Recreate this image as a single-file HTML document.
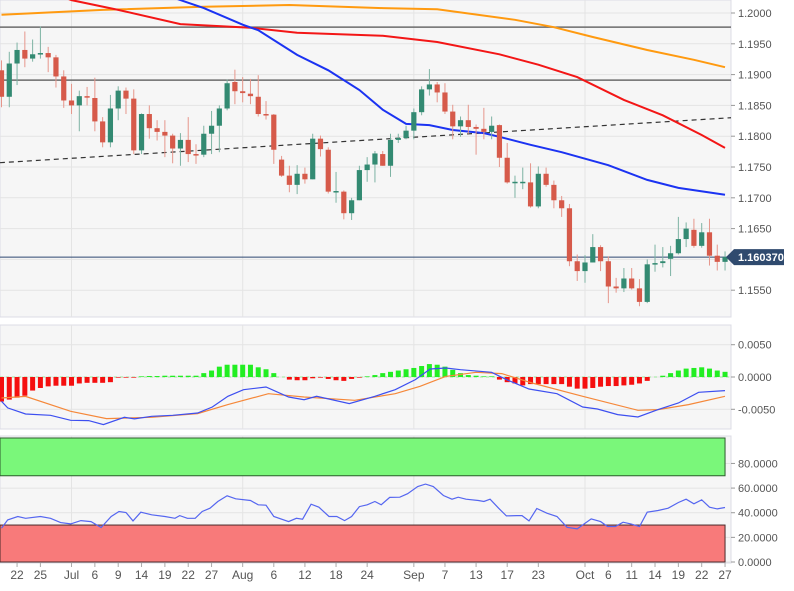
<!DOCTYPE html>
<html><head><meta charset="utf-8"><style>
html,body{margin:0;padding:0;background:#fff;}
svg{display:block;font-family:"Liberation Sans",sans-serif;}
</style></head><body>
<svg id="chart" width="794" height="591" viewBox="0 0 794 591" xmlns="http://www.w3.org/2000/svg"></svg>
<script>
// ---------- DATA ----------
const opens  = [1.1907,1.1864,1.1918,1.1940,1.1926,1.1934,1.1935,1.1928,1.1897,1.1858,1.1850,1.1865,1.1862,1.1824,1.1790,1.1845,1.1874,1.1861,1.1777,1.1836,1.1813,1.1807,1.1801,1.1780,1.1794,1.1771,1.1770,1.1804,1.1817,1.1845,1.1888,1.1873,1.1869,1.1864,1.1836,1.1835,1.1762,1.1736,1.1721,1.1739,1.1730,1.1796,1.1778,1.1710,1.1710,1.1675,1.1696,1.1745,1.1754,1.1771,1.1752,1.1794,1.1797,1.1809,1.1839,1.1876,1.1884,1.1871,1.1840,1.1816,1.1826,1.1815,1.1812,1.1807,1.1818,1.1765,1.1725,1.1725,1.1725,1.1686,1.1739,1.1721,1.1696,1.1683,1.1597,1.1581,1.1595,1.1620,1.1597,1.1556,1.1553,1.1569,1.1553,1.1531,1.1592,1.1594,1.1601,1.1610,1.1633,1.1648,1.1622,1.1644,1.1606,1.1596];
const closes = [1.1864,1.1918,1.1940,1.1926,1.1933,1.1935,1.1928,1.1897,1.1858,1.1850,1.1865,1.1863,1.1824,1.1790,1.1845,1.1874,1.1861,1.1777,1.1836,1.1813,1.1807,1.1801,1.1780,1.1794,1.1771,1.1770,1.1804,1.1817,1.1845,1.1886,1.1873,1.1870,1.1865,1.1836,1.1834,1.1778,1.1736,1.1721,1.1739,1.1730,1.1796,1.1779,1.1710,1.1711,1.1675,1.1696,1.1745,1.1754,1.1772,1.1752,1.1794,1.1797,1.1809,1.1839,1.1876,1.1884,1.1871,1.1840,1.1816,1.1826,1.1815,1.1812,1.1807,1.1817,1.1765,1.1725,1.1726,1.1726,1.1686,1.1739,1.1721,1.1696,1.1683,1.1597,1.1581,1.1595,1.1620,1.1597,1.1556,1.1553,1.1569,1.1553,1.1531,1.1592,1.1594,1.1597,1.1610,1.1633,1.1650,1.1622,1.1644,1.1606,1.1596,1.1604];
const highs  = [1.1923,1.1937,1.1952,1.1970,1.1957,1.1978,1.1945,1.1932,1.1907,1.1885,1.1874,1.1880,1.1895,1.1831,1.1867,1.1881,1.1879,1.1876,1.1837,1.1850,1.1826,1.1826,1.1804,1.1805,1.1831,1.1787,1.1817,1.1841,1.1850,1.1892,1.1908,1.1896,1.1893,1.1899,1.1857,1.1836,1.1768,1.1752,1.1753,1.1749,1.1804,1.1801,1.1782,1.1742,1.1712,1.1700,1.1752,1.1766,1.1776,1.1776,1.1804,1.1804,1.1817,1.1845,1.1881,1.1909,1.1888,1.1886,1.1851,1.1832,1.1851,1.1819,1.1846,1.1832,1.1819,1.1789,1.1736,1.1749,1.1756,1.1751,1.1749,1.1728,1.1703,1.1690,1.1608,1.1607,1.1641,1.1623,1.1605,1.1570,1.1586,1.1586,1.1568,1.1600,1.1624,1.1620,1.1622,1.1669,1.1660,1.1666,1.1659,1.1666,1.1624,1.1613];
const lows   = [1.1847,1.1847,1.1883,1.1912,1.1921,1.1926,1.1904,1.1879,1.1846,1.1836,1.1808,1.1850,1.1808,1.1782,1.1782,1.1826,1.1836,1.1771,1.1771,1.1796,1.1793,1.1766,1.1756,1.1752,1.1758,1.1755,1.1766,1.1771,1.1774,1.1842,1.1852,1.1855,1.1852,1.1832,1.1827,1.1755,1.1734,1.1709,1.1706,1.1723,1.1730,1.1767,1.1707,1.1692,1.1665,1.1664,1.1696,1.1726,1.1725,1.1752,1.1734,1.1789,1.1795,1.1795,1.1834,1.1866,1.1855,1.1836,1.1795,1.1799,1.1804,1.1770,1.1795,1.1795,1.1750,1.1723,1.1700,1.1714,1.1684,1.1683,1.1718,1.1683,1.1669,1.1589,1.1565,1.1562,1.1595,1.1581,1.1529,1.1546,1.1547,1.1551,1.1524,1.1529,1.1580,1.1587,1.1573,1.1608,1.1620,1.1619,1.1619,1.1590,1.1582,1.1582];
const ma200Idx = [0,13,26,37,49,56,66,71,76,83,89,93];
const ma200Val = [1.1997,1.2005,1.2010,1.2013,1.2008,1.2006,1.1989,1.1977,1.1961,1.1940,1.1924,1.1912];
const ma100Idx = [7,9,15,23,32,38,49,56,64,69,74,80,85,90,93];
const ma100Val = [1.2030,1.2021,1.2005,1.1982,1.1976,1.1968,1.1963,1.1953,1.1933,1.1916,1.1896,1.1859,1.1834,1.1802,1.1781];
const ma50Idx = [21,23,26,31,33,38,42,46,49,52,55,58,62,64,68,72,78,83,87,93];
const ma50Val = [1.2030,1.2021,1.2008,1.1981,1.1972,1.1932,1.1907,1.1875,1.1843,1.1820,1.1818,1.1810,1.1805,1.1799,1.1786,1.1774,1.1753,1.1729,1.1716,1.1705];
const trendIdx = [-0.2,93.8];
const trendVal = [1.1757,1.1830];
const hLevels = [1.1977,1.1891];
const lastPrice = 1.160370;
const priceTicks = [1.2000,1.1950,1.1900,1.1850,1.1800,1.1750,1.1700,1.1650,1.1550];
const priceGrid = [1.2000,1.1950,1.1900,1.1850,1.1800,1.1750,1.1700,1.1650,1.1600,1.1550];
const histVals = [-3.8,-3.5,-3.2,-2.9,-2.1,-1.7,-1.45,-1.35,-1.35,-1.35,-1.0,-0.9,-0.9,-0.9,-0.8,-0.1,-0.1,-0.1,0.1,0.15,0.15,0.2,0.2,0.2,0.2,0.2,0.6,1.0,1.6,1.9,1.9,1.9,1.9,1.5,1.2,0.6,0,-0.4,-0.5,-0.5,-0.2,-0.1,-0.3,-0.5,-0.6,-0.3,-0.1,0.1,0.3,0.6,0.8,1.0,1.2,1.4,1.7,2.0,1.9,1.6,1.1,0.6,0.3,0.2,0.1,0.1,-0.4,-0.8,-1.0,-1.3,-1.1,-1.1,-1.1,-1.1,-1.1,-1.5,-1.8,-1.8,-1.7,-1.5,-1.4,-1.4,-1.3,-1.2,-1.0,-0.6,0,0.2,0.6,1.0,1.3,1.4,1.5,1.3,1.0,0.8];
const macdIdx = [0,0.8,3.1,6.3,8.9,11.2,13.1,15.8,17.1,19.3,22,25.2,27.1,29.1,31.1,34,36.9,38.9,40.5,44.7,48,50.6,53.2,55.1,57.1,59,63,64.9,67.8,71.4,74.7,76.6,79.2,81.8,84.4,87,89.6,93];
const macdVal = [-3.76,-4.79,-5.72,-5.93,-6.70,-6.75,-7.37,-6.24,-6.49,-6.08,-5.93,-5.57,-4.64,-2.99,-1.96,-1.55,-3.09,-3.51,-2.99,-4.12,-2.99,-1.96,-0.41,1.24,1.39,1.13,0.72,-0.41,-1.86,-2.58,-4.64,-4.95,-5.82,-6.19,-5.05,-4.02,-2.37,-2.11];
const sigIdx = [0,3.1,8.9,13.5,19.3,25.2,29.1,34.3,38.9,45.4,50.6,53.8,57.1,61,64.3,68.2,74.7,81.8,84.4,88.3,93];
const sigVal = [-3.25,-3.0,-5.31,-6.44,-6.24,-5.67,-4.28,-2.58,-3.09,-3.61,-2.58,-1.44,0.10,0.72,0.52,-0.93,-2.99,-5.15,-5.05,-4.28,-2.99];
const macdTicks = [5,0,-5];
const macdTickLabels = ["0.0050","0.0000","-0.0050"];
const rsiIdx = [0,0.8,2.1,3.1,5,6.3,7.6,8.9,10.2,11.5,12.8,14.1,15.1,16,16.9,17.9,19.3,21,22.3,22.9,23.9,24.9,25.8,26.8,27.8,29,30.1,32,33,34,35,36.9,37.9,38.7,39.8,40.8,42.1,43.1,44.1,45,46,47,48,48.8,49.9,51.2,52.2,53.5,54.5,55.5,56.8,57.9,58.7,59.7,61.3,62,62.8,63.9,64.9,66.2,66.9,67.8,68.8,70.1,71.4,72.7,74,75.8,77,77.9,78.9,79.9,80.9,82,83,84.4,85.7,87,88,89,90,91,92,93];
const rsiVal = [27.4,34.2,36.9,35.5,36.9,35.5,32.0,30.9,33.6,32.8,28.0,36.9,41.0,40.2,33.4,40.4,38.3,36.9,35.5,37.7,35.5,35.5,41.0,43.7,49.1,53.7,51.3,49.9,46.4,46.1,36.9,32.8,35.5,34.7,46.9,44.5,36.9,36.9,33.6,36.9,45.0,46.4,49.1,46.4,52.4,52.6,55.4,61.3,63.2,61.3,54.0,51.0,52.6,51.0,49.9,49.1,51.0,43.7,37.4,37.7,37.7,33.4,43.4,39.6,36.9,28.2,26.9,35.0,32.8,28.8,28.8,32.3,30.9,28.8,40.4,41.8,43.7,48.3,51.0,47.2,50.5,44.5,43.1,44.2];
const rsiTicks = [80,60,40,20,0];
const rsiTickLabels = ["80.0000","60.0000","40.0000","20.0000","0.0000"];
const dateIdx = [2,5,9,12,15,18,21,24,27,31,35,39,43,47,53,57,61,65,69,75,78,81,84,87,90,93];
const dateLabels = ["22","25","Jul","6","9","14","19","22","27","Aug","6","12","18","24","Sep","7","13","17","23","Oct","6","11","14","19","22","27"];
const monthIdx = [9,31,53,75];

// ---------- AXES ----------
const PW = 731;
const X = i => 1.5 + 7.78 * i;
const Y = p => 13 + (1.2 - p) / 0.005 * 30.8;
const MY = v => 377 - v * 6.46;           // v in units of 0.001
const RY = v => 562 - v * 1.232;

const NS = "http://www.w3.org/2000/svg";
const svg = document.getElementById("chart");
function mk(tag, attrs, parent) {
  const e = document.createElementNS(NS, tag);
  for (const k in attrs) e.setAttribute(k, attrs[k]);
  (parent || svg).appendChild(e);
  return e;
}
function polyPts(idx, vals, fy) { return idx.map((i, k) => X(i).toFixed(1) + "," + fy(vals[k]).toFixed(1)).join(" "); }

// clip paths
const defs = mk("defs", {});
[["cMain",0,0,PW,317],["cMacd",0,325,PW,104],["cRsi",0,436,PW,127]].forEach(c => {
  const cp = mk("clipPath", {id: c[0]}, defs);
  mk("rect", {x:c[1], y:c[2], width:c[3], height:c[4]}, cp);
});

// panels
const pMain = mk("rect", {x:0, y:0, width:PW, height:317, fill:"#f6f6f6", stroke:"#dcdce6"});


const pMacd = mk("rect", {x:0, y:325, width:PW, height:104, fill:"#f6f6f6", stroke:"#dcdce6"});


const pRsi = mk("rect", {x:0, y:436, width:PW, height:127, fill:"#f6f6f6", stroke:"#dcdce6"});



// gridlines
const grid = mk("g", {stroke:"#e4e4e4", "stroke-width":1});


priceGrid.forEach(p => mk("line", {x1:0, x2:PW, y1:Y(p), y2:Y(p)}, grid));
macdTicks.forEach(v => mk("line", {x1:0, x2:PW, y1:MY(v), y2:MY(v)}, grid));
rsiTicks.forEach(v => mk("line", {x1:0, x2:PW, y1:RY(v), y2:RY(v)}, grid));
monthIdx.forEach(i => {
  mk("line", {x1:X(i), x2:X(i), y1:0, y2:317}, grid);
  mk("line", {x1:X(i), x2:X(i), y1:325, y2:429}, grid);
  mk("line", {x1:X(i), x2:X(i), y1:436, y2:563}, grid);
});

// ---------- MAIN PRICE ----------
const gMain = mk("g", {"clip-path":"url(#cMain)"});
hLevels.forEach((p, k) => {
  const l = mk("line", {x1:0, x2:PW, y1:Y(p), y2:Y(p), stroke:"#6b6b6b", "stroke-width":1.5}, gMain);
  
  
});
const tl = mk("polyline", {points:polyPts(trendIdx, trendVal, Y), fill:"none", stroke:"#333", "stroke-width":1.2, "stroke-dasharray":"5,4"}, gMain);


const lp = mk("line", {x1:0, x2:PW, y1:Y(lastPrice), y2:Y(lastPrice), stroke:"#2c4770", "stroke-width":1}, gMain);


const m200 = mk("polyline", {points:polyPts(ma200Idx, ma200Val, Y), fill:"none", stroke:"#ff9a10", "stroke-width":2}, gMain);


const m100 = mk("polyline", {points:polyPts(ma100Idx, ma100Val, Y), fill:"none", stroke:"#f31616", "stroke-width":2}, gMain);


const m50 = mk("polyline", {points:polyPts(ma50Idx, ma50Val, Y), fill:"none", stroke:"#1b33f2", "stroke-width":2}, gMain);



const gC = mk("g", {}, gMain);


opens.forEach((o, i) => {
  const c = closes[i], up = c >= o;
  const col = up ? "#338a72" : "#d65a4a";
  const wick = up ? "#7db3a3" : "#e6968b";
  const g = mk("g", {}, gC);
  
  
  mk("line", {x1:X(i), x2:X(i), y1:Y(highs[i]), y2:Y(lows[i]), stroke:wick, "stroke-width":1}, g);
  const top = Math.min(Y(o), Y(c)), h = Math.max(1.5, Math.abs(Y(o) - Y(c)));
  mk("rect", {x:X(i) - 2.6, y:top, width:5.2, height:h, fill:col}, g);
});

// price axis
const ax = mk("g", {"font-size":11, fill:"#555"});


priceTicks.forEach(p => {
  mk("line", {x1:PW, x2:PW + 4, y1:Y(p), y2:Y(p), stroke:"#999"}, ax);
  const t = mk("text", {x:738, y:Y(p) + 4}, ax); t.textContent = p.toFixed(4);
});
const lbl = mk("g", {});


const ly = Y(lastPrice);
mk("path", {d:`M726 ${ly} L734 ${ly-8} L784 ${ly-8} L784 ${ly+8} L734 ${ly+8} Z`, fill:"#2f4a6e"}, lbl);
const lt = mk("text", {x:738, y:ly + 4, fill:"#fff", "font-size":11, "font-weight":"bold"}, lbl);
lt.textContent = lastPrice.toFixed(6);

// ---------- MACD ----------
const gM = mk("g", {"clip-path":"url(#cMacd)"});
mk("line", {x1:0, x2:PW, y1:MY(0), y2:MY(0), stroke:"#9be89b", "stroke-width":1, "stroke-dasharray":"3,3"}, gM);
histVals.forEach((v, i) => {
  const r = mk("rect", {x:X(i) - 2.5, y:Math.min(MY(0), MY(v)), width:5, height:Math.abs(MY(v) - MY(0)), fill: v >= 0 ? "#22ee22" : "#f50f0f"}, gM);
  
  
});
const sl = mk("polyline", {points:polyPts(sigIdx, sigVal, MY), fill:"none", stroke:"#f5883a", "stroke-width":1.2}, gM);


const ml = mk("polyline", {points:polyPts(macdIdx, macdVal, MY), fill:"none", stroke:"#3d4ff0", "stroke-width":1.2}, gM);


const axM = mk("g", {"font-size":11, fill:"#555"});


macdTicks.forEach((v, k) => {
  mk("line", {x1:PW, x2:PW + 4, y1:MY(v), y2:MY(v), stroke:"#999"}, axM);
  const t = mk("text", {x:738, y:MY(v) + 4}, axM); t.textContent = macdTickLabels[k];
});

// ---------- RSI ----------
const gR = mk("g", {"clip-path":"url(#cRsi)"});
const ob = mk("rect", {x:0, y:438, width:X(93), height:RY(70) - 438, fill:"#7af77a", stroke:"#2d5a2d", "stroke-width":1}, gR);


const os = mk("rect", {x:0, y:RY(30), width:X(93), height:RY(0) - RY(30), fill:"#f87a7a", stroke:"#4a2a2a", "stroke-width":1}, gR);


const rl = mk("polyline", {points:polyPts(rsiIdx, rsiVal, RY), fill:"none", stroke:"#5566f0", "stroke-width":1.2}, gR);


const axR = mk("g", {"font-size":11, fill:"#555"});


rsiTicks.forEach((v, k) => {
  mk("line", {x1:PW, x2:PW + 4, y1:RY(v), y2:RY(v), stroke:"#999"}, axR);
  const t = mk("text", {x:738, y:RY(v) + 4}, axR); t.textContent = rsiTickLabels[k];
});

// ---------- DATE AXIS ----------
const axD = mk("g", {"font-size":12, fill:"#555", "text-anchor":"middle"});


dateIdx.forEach((i, k) => {
  mk("line", {x1:X(i), x2:X(i), y1:563, y2:567, stroke:"#aaa"}, axD);
  const t = mk("text", {x:X(i), y:579}, axD); t.textContent = dateLabels[k];
});
</script>
</body></html>
